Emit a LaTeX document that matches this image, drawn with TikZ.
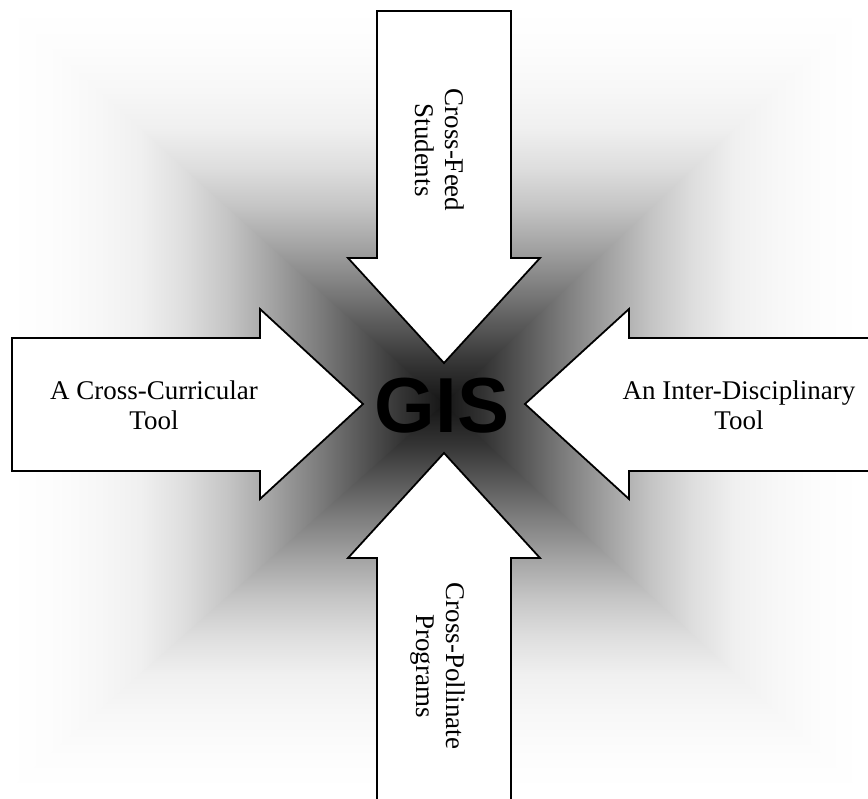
\documentclass[tikz,border=0pt]{standalone}
\usepackage{fontspec}
\setmainfont{Liberation Serif}
\newfontfamily\gisfont{Liberation Sans}
\pgfdeclareverticalshading{bgshade}{100bp}{%
  color(0bp)=(black!92); color(25bp)=(black!92); color(30bp)=(black!80);
  color(35bp)=(black!65); color(40bp)=(black!50); color(45bp)=(black!36);
  color(50bp)=(black!23); color(55bp)=(black!13); color(60bp)=(black!6);
  color(65bp)=(black!3); color(70bp)=(black!1); color(75bp)=(white);
  color(100bp)=(white)}
\tikzset{
  arrowbox/.style={draw=black, fill=white, line width=1.8pt, line join=miter},
  lbl/.style={font=\fontsize{27}{30}\selectfont, align=center, inner sep=0pt},
  gislbl/.style={font=\gisfont\bfseries\fontsize{78}{78}\selectfont, inner sep=0pt, text=black},
  bgpart/.style={shading=bgshade}
}
\begin{document}
\begin{tikzpicture}[x=1pt,y=-1pt]
\useasboundingbox (0,0) rectangle (868,799);
\clip (0,0) rectangle (868,799);
\fill[white] (0,0) rectangle (868,799);
% background: rectangular path gradient
\coordinate (c) at (444,404);
\coordinate (tl) at (10,10);
\coordinate (tr) at (860,10);
\coordinate (br) at (860,790);
\coordinate (bl) at (10,790);
\shade[bgpart, shading angle=90] (446,404) -- (10,7) -- (10,793) -- cycle;
\shade[bgpart, shading angle=270] (442,404) -- (860,7) -- (860,793) -- cycle;
\shade[bgpart] (c) -- (tl) -- (tr) -- cycle;
\shade[bgpart, shading angle=180] (c) -- (bl) -- (br) -- cycle;
% arrows
\path[arrowbox] (377,11) -- (511,11) -- (511,258) -- (540,258) -- (444,363)
  -- (348,258) -- (377,258) -- cycle;
\path[arrowbox] (377,880) -- (377,558) -- (348,558) -- (444,453) -- (540,558)
  -- (511,558) -- (511,880);
\path[arrowbox] (12,338) -- (260,338) -- (260,309) -- (363,404) -- (260,499)
  -- (260,471) -- (12,471) -- cycle;
\path[arrowbox] (900,338) -- (629,338) -- (629,309) -- (525,404) -- (629,499)
  -- (629,471) -- (900,471);
% labels
\node[lbl] (lefttxt) at (154,405) {A Cross-Curricular\\Tool};
\node[lbl] (righttxt) at (739,405) {An Inter-Disciplinary\\Tool};
\node[lbl, rotate=-90] (toptxt) at (440,150) {Cross-Feed\\Students};
\node[lbl, rotate=-90] (bottxt) at (438,666) {Cross-Pollinate\\Programs};
\node[gislbl] (gis) at (442,406) {GIS};
\end{tikzpicture}
\end{document}
